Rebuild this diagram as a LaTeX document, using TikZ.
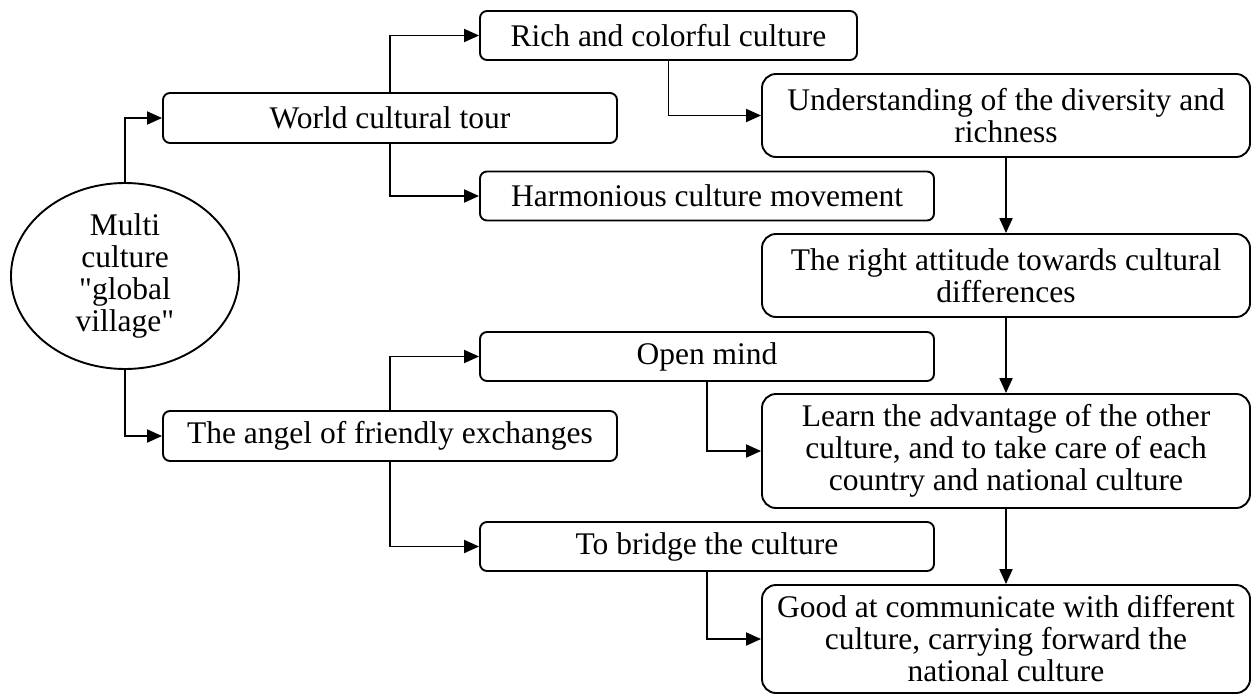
\documentclass[tikz,border=0pt]{standalone}
\usepackage{fontspec}
\setmainfont{Liberation Serif}
\usetikzlibrary{arrows.meta,shapes.geometric}
\begin{document}
\begin{tikzpicture}[x=1pt,y=-1pt,
  txt/.style={font=\fontsize{31.5pt}{32pt}\selectfont, align=center, inner sep=0pt},
  box/.style={txt, draw, line width=1.9pt, rectangle, rounded corners=7pt},
  bigbox/.style={box, rounded corners=14pt, minimum width=488pt},
  midbox/.style={box, minimum width=454pt, minimum height=49pt},
  arr/.style={line width=1.9pt, -{Triangle[length=15pt,width=13pt]}},
  ]
\useasboundingbox (0,0) rectangle (1252,695);
\node[txt, draw, ellipse, line width=1.9pt, minimum width=228pt, minimum height=186pt] (ell) at (125,276) {Multi\\culture\\\textquotedbl global\\village\textquotedbl};
\node[box, minimum width=454pt, minimum height=50pt] (world) at (390,118) {World cultural tour};
\node[box, minimum width=454pt, minimum height=50pt] (angel) at (390,436) {The angel of friendly exchanges};
\node[box, minimum width=377pt, minimum height=49pt] (rich) at (668.5,35.5) {Rich and colorful culture};
\node[midbox] (harm) at (707,196) {Harmonious culture movement};
\node[midbox] (open) at (707,356.5) {Open mind};
\node[midbox] (bridge) at (707,546.5) {To bridge the culture};
\node[bigbox, minimum height=83pt] (und) at (1006,115.5) {Understanding of the diversity and\\richness};
\node[bigbox, minimum height=83pt] (att) at (1006,275.5) {The right attitude towards cultural\\differences};
\node[bigbox, minimum height=114pt] (learn) at (1006,451) {Learn the advantage of the other\\culture, and to take care of each\\country and national culture};
\node[bigbox, minimum height=108pt] (good) at (1006,639) {Good at communicate with different\\culture, carrying forward the\\national culture};
\draw[arr] (ell.north) |- (world.west);
\draw[arr] (ell.south) |- (angel.west);
\draw[arr] (world.north) |- (rich.west);
\draw[arr] (world.south) |- (harm.west);
\draw[arr] (angel.north) |- (open.west);
\draw[arr] (angel.south) |- (bridge.west);
\draw[arr] (rich.south) |- (und.west);
\draw[arr] (open.south) |- (learn.west);
\draw[arr] (bridge.south) |- (good.west);
\draw[arr] (und.south) -- (att.north);
\draw[arr] (att.south) -- (learn.north);
\draw[arr] (learn.south) -- (good.north);
\end{tikzpicture}
\end{document}
